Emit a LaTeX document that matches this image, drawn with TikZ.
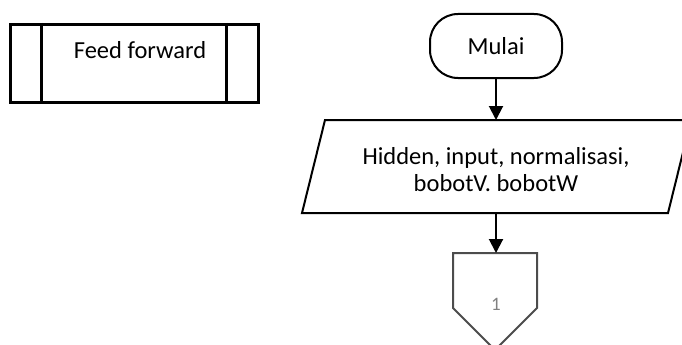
\documentclass[tikz,border=0pt]{standalone}
\usepackage{fontspec}
\setmainfont{Carlito}
\usetikzlibrary{arrows.meta}
\tikzset{
  flow/.style={line width=2pt, draw=black},
  label/.style={font=\fontsize{24.5}{27}\selectfont, align=center, inner sep=0pt},
  arrow/.style={line width=2pt, -{Triangle[width=14pt,length=14pt]}},
  connector/.style={line width=2pt, draw=black!70},
}
\begin{document}
\begin{tikzpicture}[x=1pt,y=-1pt]
\useasboundingbox (0,0) rectangle (682,345);
\clip (0,0) rectangle (682,345);

% predefined process box
\node[draw, line width=3pt, minimum width=248pt, minimum height=78pt,
      anchor=north west, inner sep=0pt] (ff) at (9,23) {};
\draw[line width=3pt] (41,23) -- (41,101) (226,23) -- (226,101);
\node[label] (fftext) at (140,50) {Feed forward};

% terminator
\node[flow, draw, rounded corners=28pt, minimum width=132pt, minimum height=64pt,
      label, inner sep=0pt] (start) at (496,46) {Mulai};

% input/output parallelogram
\coordinate (ioTL) at (325,120);
\coordinate (ioTR) at (691,120);
\coordinate (ioBR) at (668,213);
\coordinate (ioBL) at (302,213);
\coordinate (ioTop) at (496,120);
\coordinate (ioBot) at (496,213);
\draw[flow, line join=miter] (ioTL) -- (ioTR) -- (ioBR) -- (ioBL) -- cycle;
\node[label] (io) at (496,170) {Hidden, input, normalisasi,\\bobotV. bobotW};

% off-page connector
\coordinate (cTL) at (453,253);
\coordinate (cTR) at (537,253);
\coordinate (cR) at (537,308);
\coordinate (cL) at (453,308);
\coordinate (cTip) at (495,350);
\coordinate (cTop) at (496,253);
\draw[connector, line join=miter] (cTL) -- (cTR) -- (cR) -- (cTip) -- (cL) -- cycle;
\node[font=\fontsize{19}{22}\selectfont, text=black!50, inner sep=0pt] (cnum) at (496,304) {1};

% flow arrows
\draw[arrow] (start.south) -- (ioTop);
\draw[arrow] (ioBot) -- (cTop);
\end{tikzpicture}
\end{document}
